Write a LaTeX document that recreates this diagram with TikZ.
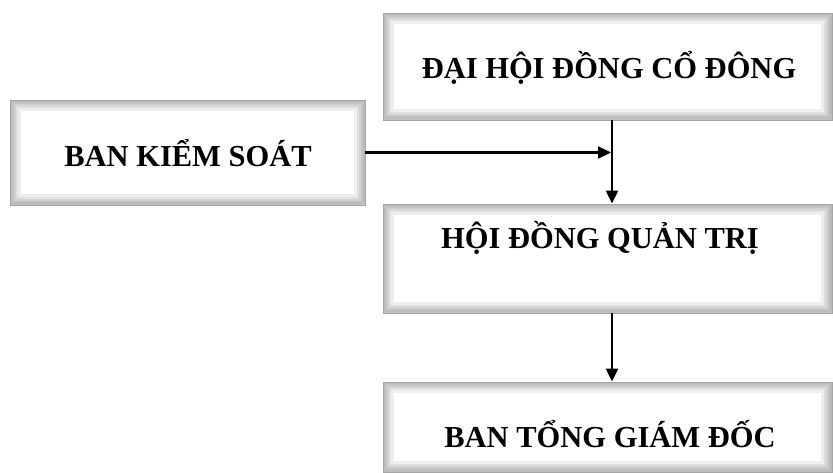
\documentclass[tikz,border=0pt]{standalone}
\usepackage{fontspec}
\setmainfont{Liberation Serif}
\usetikzlibrary{arrows.meta}

\tikzset{
  panel/.style={
    draw=gray!70, line width=0.9pt, fill=white, inner sep=0pt,
    path picture={
      % bevelled frame: bands fading from grey at the edge to white inside
      \foreach \k/\c in {1.5/55,3.5/46,5.5/36,7.5/25,9.5/13}{
        \draw[line width=2.2pt, gray!\c]
          ([shift={(\k pt,\k pt)}]path picture bounding box.south west)
          rectangle
          ([shift={(-\k pt,-\k pt)}]path picture bounding box.north east);
      }
      % slightly heavier shade along the lower edge
      \fill[gray!50]
        (path picture bounding box.south west)
        rectangle ([shift={(0pt,3.5pt)}]path picture bounding box.south east);
    }
  },
  label/.style={font=\bfseries\fontsize{30.5}{34}\selectfont, inner sep=0pt},
  link/.style={line width=2.3pt, -{Triangle[length=13pt,width=12pt]}}
}

\begin{document}
\begin{tikzpicture}[x=1pt,y=-1pt]
  \useasboundingbox (0,0) rectangle (833,473);

  % frames
  \node[panel, minimum width=449pt, minimum height=107pt] (dhdcd) at (607.5,66.5) {};
  \node[panel, minimum width=355pt, minimum height=105pt] (bks)   at (187.5,152.5) {};
  \node[panel, minimum width=449pt, minimum height=109pt] (hdqt)  at (607.5,258.5) {};
  \node[panel, minimum width=449pt, minimum height=90pt]  (btgd)  at (607.5,427) {};

  % titles
  \node[label] (tdhdcd) at (609,68)  {ĐẠI HỘI ĐỒNG CỔ ĐÔNG};
  \node[label] (tbks)   at (188,153) {BAN KIỂM SOÁT};
  \node[label] (thdqt)  at (600,238) {HỘI ĐỒNG QUẢN TRỊ};
  \node[label] (tbtgd)  at (610,434) {BAN TỔNG GIÁM ĐỐC};

  % connectors
  \coordinate (join) at (hdqt.north |- bks.east);
  \draw[link] ([xshift=4.5pt]dhdcd.south) -- ([xshift=4.5pt]hdqt.north);
  \draw[link] (bks.east) -- ([xshift=3.5pt]join);
  \draw[link] ([xshift=4.5pt]hdqt.south) -- ([xshift=4.5pt]btgd.north);
\end{tikzpicture}
\end{document}
